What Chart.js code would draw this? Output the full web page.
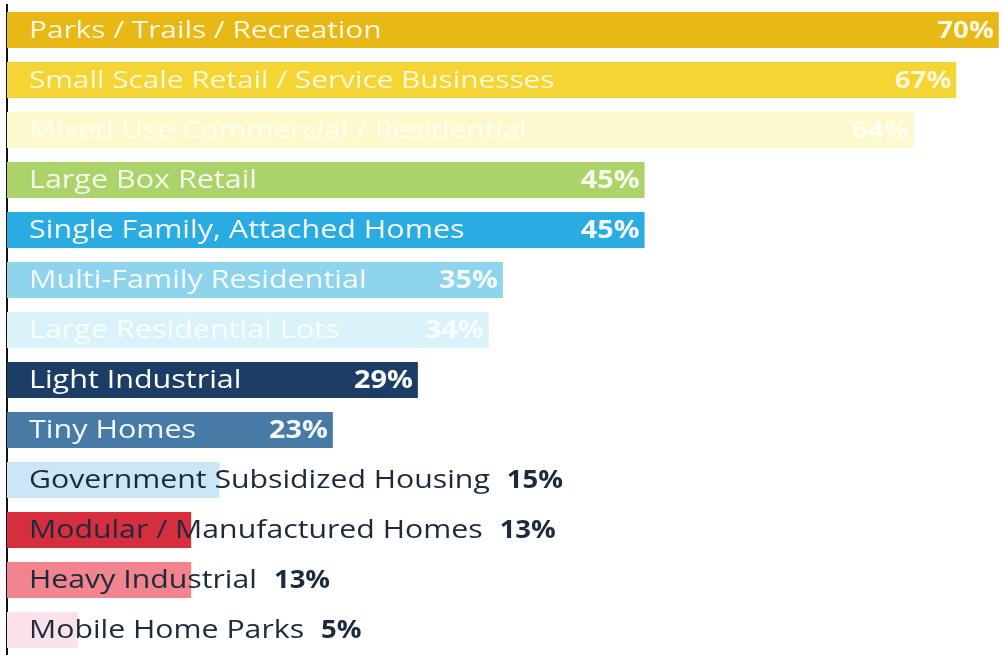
<!DOCTYPE html>
<html lang="en">
<head>
    <meta charset="UTF-8">
    <title>Preferred Land Uses</title>
    <script src="https://cdn.jsdelivr.net/npm/chart.js"></script>
    <style>
        html, body {
            margin: 0;
            padding: 0;
            background: #ffffff;
        }

        .chart-box {
            width: 1004px;
            height: 655px;
        }
    </style>
</head>
<body>
    <div class="chart-box">
        <canvas id="landUseChart"></canvas>
    </div>

    <script>
        // 各項土地用途及支持比例（%）
        const landUses = [
            'Parks / Trails / Recreation',
            'Small Scale Retail / Service Businesses',
            'Mixed Use Commercial / Residential',
            'Large Box Retail',
            'Single Family, Attached Homes',
            'Multi-Family Residential',
            'Large Residential Lots',
            'Light Industrial',
            'Tiny Homes',
            'Government Subsidized Housing',
            'Modular / Manufactured Homes',
            'Heavy Industrial',
            'Mobile Home Parks'
        ];
        const support = [70, 67, 64, 45, 45, 35, 34, 29, 23, 15, 13, 13, 5];

        const barColors = [
            'rgb(232, 184, 22)',
            'rgb(245, 213, 52)',
            'rgb(252, 250, 205)',
            'rgb(172, 211, 105)',
            'rgb(42, 172, 226)',
            'rgb(142, 212, 236)',
            'rgb(218, 243, 250)',
            'rgb(28, 62, 102)',
            'rgb(72, 122, 166)',
            'rgb(203, 230, 246)',
            'rgb(214, 46, 62)',
            'rgb(241, 132, 142)',
            'rgb(251, 226, 232)'
        ];

        // 白字寫在長條內，深色字寫在長條外
        const labelInside = [true, true, true, true, true, true, true, true, true, false, false, false, false];
        const insideTextColors = [
            '#fff8e0', '#fff8d8', 'rgba(255,255,255,0.75)', '#f4f9ec', '#f2faff',
            '#f4fbff', 'rgba(255,255,255,0.8)', '#ffffff', '#f2f6fb'
        ];
        const narrowRows = [0, 1, 2];

        // 水平拉寬的文字
        function wideText(ctx, text, x, y, align, stretch) {
            ctx.save();
            ctx.translate(x, y);
            ctx.scale(stretch, 1);
            ctx.textAlign = align;
            ctx.fillText(text, 0, 0);
            ctx.restore();
            return ctx.measureText(text).width * stretch;
        }

        // 自訂文字繪製
        const barTextPlugin = {
            id: 'barText',
            afterDatasetsDraw(chart) {
                const ctx = chart.ctx;
                const meta = chart.getDatasetMeta(0);
                ctx.save();
                ctx.textBaseline = 'middle';
                meta.data.forEach((bar, i) => {
                    const labelX = bar.base + 22;
                    const y = bar.y + 1;
                    const valueText = support[i] + '%';
                    if (labelInside[i]) {
                        const narrow = narrowRows.includes(i);
                        ctx.fillStyle = insideTextColors[i];
                        ctx.font = `${narrow ? 24 : 25}px "Open Sans", sans-serif`;
                        wideText(ctx, landUses[i], labelX, y, 'left', narrow ? 1.24 : 1.22);
                        ctx.font = `bold ${narrow ? 24 : 25}px "Open Sans", sans-serif`;
                        wideText(ctx, valueText, bar.x - 5, y, 'right', 1.15);
                    } else {
                        ctx.fillStyle = '#1b2a3c';
                        ctx.font = '25px "Open Sans", sans-serif';
                        const w = wideText(ctx, landUses[i], labelX, y, 'left', 1.21);
                        ctx.font = 'bold 25px "Open Sans", sans-serif';
                        wideText(ctx, valueText, labelX + w + 17, y, 'left', 1.1);
                    }
                });
                ctx.restore();
            }
        };

        const landUseChart = new Chart(document.getElementById('landUseChart'), {
            type: 'bar',
            data: {
                labels: landUses,
                datasets: [{
                    label: 'Support',
                    data: support,
                    backgroundColor: barColors,
                    borderWidth: 0,
                    barPercentage: 0.72,
                    categoryPercentage: 1.0
                }]
            },
            options: {
                indexAxis: 'y',
                responsive: true,
                maintainAspectRatio: false,
                animation: false,
                layout: {
                    padding: { left: 0, right: 1, top: 5, bottom: 0 }
                },
                plugins: {
                    legend: { display: false },
                    tooltip: { enabled: false }
                },
                scales: {
                    x: {
                        display: false,
                        min: 0,
                        max: 70.3
                    },
                    y: {
                        grid: { display: false },
                        ticks: { display: false },
                        border: { display: true, color: '#111111', width: 2 },
                        afterFit(scale) {
                            scale.width = 7;
                        }
                    }
                }
            },
            plugins: [barTextPlugin]
        });
    </script>
</body>
</html>
